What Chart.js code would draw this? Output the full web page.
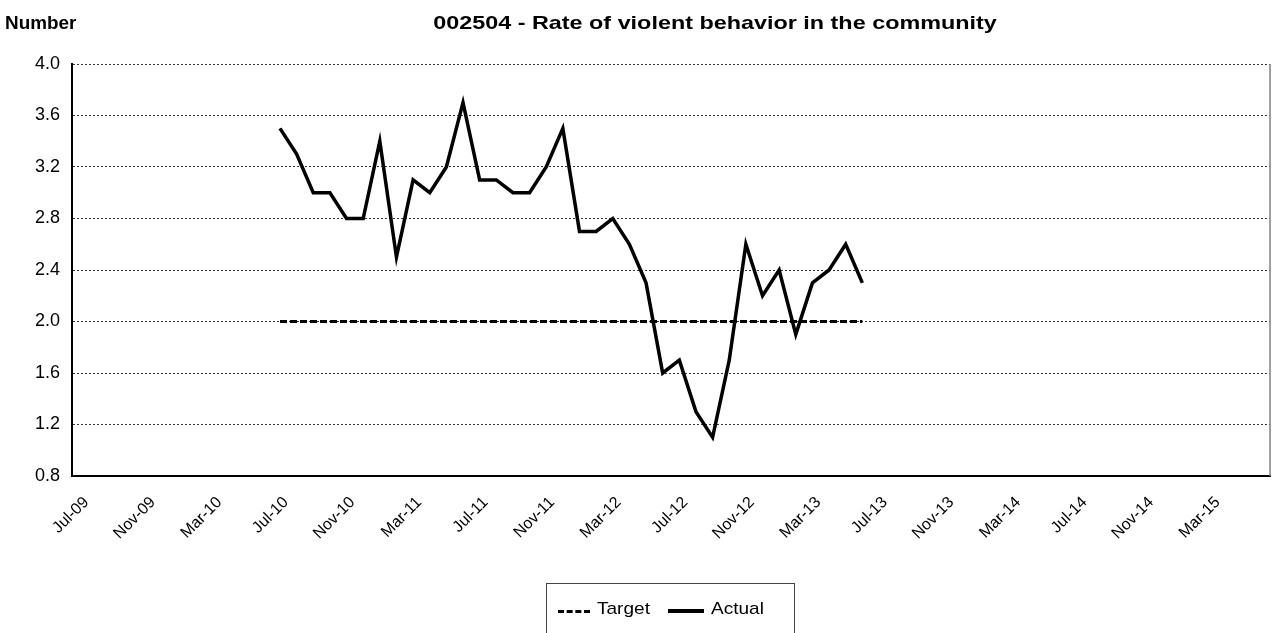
<!DOCTYPE html>
<html lang="en">
<head>
    <meta charset="UTF-8">
    <title>002504 - Rate of violent behavior in the community</title>
    <style>
        body { margin: 0; background: #fff; font-family: Arial, "Liberation Sans", sans-serif; }
        #wrap { position: relative; width: 1272px; height: 633px; overflow: hidden; }
        #chart { position: absolute; left: 0; top: 0; }
        .unit { position: absolute; left: 5px; top: 13px; font-weight: bold; font-size: 18px; transform: scaleX(1.05); transform-origin: left top; }
        .title { position: absolute; left: 315px; width: 800px; top: 12px; text-align: center; font-weight: bold; font-size: 19px; transform: scaleX(1.23); transform-origin: center top; }
        .legend { position: absolute; left: 546px; top: 583px; width: 249px; height: 70px; border: 1px solid #444; box-sizing: border-box; }
        .legend .item { position: absolute; top: 15px; font-size: 17px; line-height: 20px; transform: scaleX(1.12); transform-origin: left top; }
        .legend .dash { position: absolute; top: 26px; height: 0; border-top: 3px dashed #000; }
        .legend .solid { position: absolute; top: 25px; height: 4px; background: #000; }
    </style>
</head>
<body>
<div id="wrap">
    <canvas id="chart" width="1272" height="633"></canvas>
    <div class="unit">Number</div>
    <div class="title">002504 - Rate of violent behavior in the community</div>
    <div class="legend">
        <div class="dash" style="left:11px; width:32px;"></div>
        <div class="item" style="left:50px;">Target</div>
        <div class="solid" style="left:121px; width:36px;"></div>
        <div class="item" style="left:164px;">Actual</div>
    </div>
</div>
<script src="https://cdn.jsdelivr.net/npm/chart.js"></script>
<script>
    // months on the category axis
    const months = [
        'Jul-09','Aug-09','Sep-09','Oct-09','Nov-09','Dec-09','Jan-10','Feb-10','Mar-10','Apr-10','May-10','Jun-10',
        'Jul-10','Aug-10','Sep-10','Oct-10','Nov-10','Dec-10','Jan-11','Feb-11','Mar-11','Apr-11','May-11','Jun-11',
        'Jul-11','Aug-11','Sep-11','Oct-11','Nov-11','Dec-11','Jan-12','Feb-12','Mar-12','Apr-12','May-12','Jun-12',
        'Jul-12','Aug-12','Sep-12','Oct-12','Nov-12','Dec-12','Jan-13','Feb-13','Mar-13','Apr-13','May-13','Jun-13',
        'Jul-13','Aug-13','Sep-13','Oct-13','Nov-13','Dec-13','Jan-14','Feb-14','Mar-14','Apr-14','May-14','Jun-14',
        'Jul-14','Aug-14','Sep-14','Oct-14','Nov-14','Dec-14','Jan-15','Feb-15','Mar-15','Apr-15','May-15','Jun-15'
    ];
    // reported values, Jul-10 .. Jun-13
    const seriesStart = 'Jul-10';
    const actual = [
        3.5, 3.3, 3.0, 3.0, 2.8, 2.8, 3.4, 2.5, 3.1, 3.0, 3.2, 3.7,
        3.1, 3.1, 3.0, 3.0, 3.2, 3.5, 2.7, 2.7, 2.8, 2.6, 2.3, 1.6,
        1.7, 1.3, 1.1, 1.7, 2.6, 2.2, 2.4, 1.9, 2.3, 2.4, 2.6, 2.3
    ];
    const target = [
        2.0, 2.0, 2.0, 2.0, 2.0, 2.0, 2.0, 2.0, 2.0, 2.0, 2.0, 2.0,
        2.0, 2.0, 2.0, 2.0, 2.0, 2.0, 2.0, 2.0, 2.0, 2.0, 2.0, 2.0,
        2.0, 2.0, 2.0, 2.0, 2.0, 2.0, 2.0, 2.0, 2.0, 2.0, 2.0, 2.0
    ];
    const yTicks = [0.8, 1.2, 1.6, 2.0, 2.4, 2.8, 3.2, 3.6, 4.0];

    // put a series on the full month axis (null where no data)
    function onAxis(values) {
        const start = months.indexOf(seriesStart);
        return months.map((m, i) => (i >= start && i - start < values.length) ? values[i - start] : null);
    }

    const fontFamily = 'Arial, "Liberation Sans", sans-serif';

    // right frame of the plot area
    const frame = {
        id: 'frame',
        afterDraw(chart) {
            const a = chart.chartArea, ctx = chart.ctx;
            ctx.save();
            ctx.strokeStyle = '#808080';
            ctx.lineWidth = 1.5;
            ctx.beginPath();
            ctx.moveTo(a.right, a.top);
            ctx.lineTo(a.right, a.bottom);
            ctx.stroke();
            ctx.restore();
        }
    };

    new Chart(document.getElementById('chart'), {
        type: 'line',
        data: {
            labels: months,
            datasets: [
                {
                    label: 'Target',
                    data: onAxis(target),
                    borderColor: '#000',
                    borderWidth: 3,
                    borderDash: [7, 3],
                    pointRadius: 0,
                    tension: 0,
                    spanGaps: false
                },
                {
                    label: 'Actual',
                    data: onAxis(actual),
                    borderColor: '#000',
                    borderWidth: 3.5,
                    pointRadius: 0,
                    tension: 0,
                    spanGaps: false
                }
            ]
        },
        options: {
            responsive: false,
            animation: false,
            layout: { padding: { top: 64, right: 2, left: 0, bottom: 0 } },
            plugins: {
                legend: { display: false },
                title: { display: false },
                tooltip: { enabled: false }
            },
            scales: {
                x: {
                    offset: true,
                    grid: { display: false, drawTicks: false },
                    border: { display: true, color: '#000', width: 2 },
                    afterFit(scale) {
                        scale.height = 157;
                        scale.paddingLeft = 0;
                        scale.paddingRight = 0;
                    },
                    ticks: {
                        autoSkip: false,
                        maxRotation: 45,
                        minRotation: 45,
                        padding: 17,
                        labelOffset: 6,
                        color: '#000',
                        font: { family: fontFamily, size: 16 },
                        callback(value, index) { return index % 4 === 0 ? months[index] : ''; }
                    }
                },
                y: {
                    min: yTicks[0],
                    max: yTicks[yTicks.length - 1],
                    afterFit(scale) { scale.width = 72; },
                    afterBuildTicks(scale) { scale.ticks = yTicks.map(v => ({ value: v })); },
                    grid: {
                        color: '#333',
                        lineWidth: 1,
                        drawTicks: false
                    },
                    border: { display: true, color: '#000', width: 2, dash: [2, 2] },
                    ticks: {
                        padding: 12,
                        color: '#000',
                        font: { family: fontFamily, size: 18 },
                        callback(value) { return Number(value).toFixed(1); }
                    }
                }
            }
        },
        plugins: [frame]
    });
</script>
</body>
</html>
